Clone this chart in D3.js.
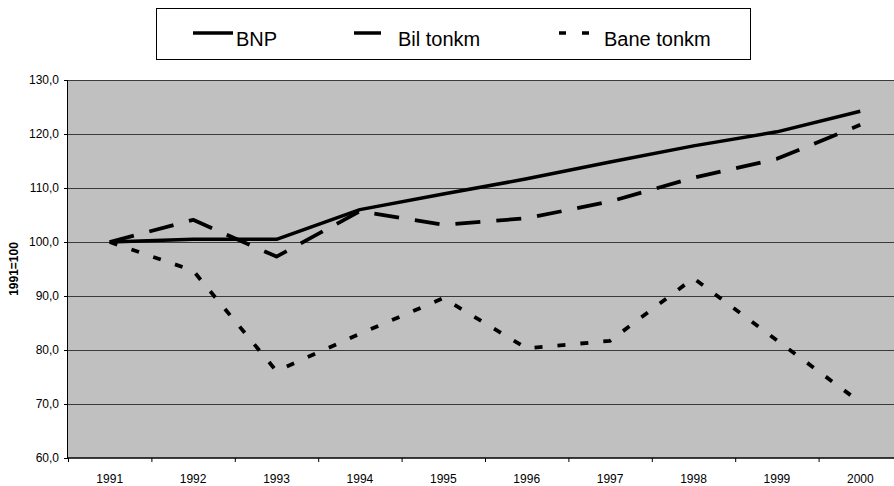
<!DOCTYPE html>
<html>
<head>
<meta charset="utf-8">
<script src="https://cdn.jsdelivr.net/npm/d3@7"></script>
<style>
  body { margin: 0; background: #fff; }
  svg { display: block; font-family: "Liberation Sans", Arial, sans-serif; }
</style>
</head>
<body>
<svg id="chart" width="894" height="486"></svg>
<script>
const years = ["1991", "1992", "1993", "1994", "1995", "1996", "1997", "1998", "1999", "2000"];
const bnp = [100, 100.5, 100.5, 106.0, 108.9, 111.7, 114.8, 117.8, 120.4, 124.2];
const bil = [100, 104.1, 97.3, 105.7, 103.2, 104.4, 107.5, 111.9, 115.4, 121.7];
const bane = [100, 94.7, 76.1, 83.0, 89.6, 80.3, 81.7, 93.3, 81.8, 70.3];
const yTicks = [60, 70, 80, 90, 100, 110, 120, 130];

const series = [
  { name: "BNP", values: bnp, dash: null, width: 3.5 },
  { name: "Bil tonkm", values: bil, dash: "25,16", width: 3.8 },
  { name: "Bane tonkm", values: bane, dash: "8,15", width: 3.8 },
];

const svg = d3.select("#chart");
const margin = { top: 80, left: 68 };
const width = 834;
const height = 378;

const x = d3.scaleBand().domain(years).range([0, width]);
const y = d3.scaleLinear().domain([60, 130]).range([height, 0]);

const g = svg.append("g").attr("transform", `translate(${margin.left},${margin.top})`);

// plot background
g.append("rect")
  .attr("width", width)
  .attr("height", height)
  .attr("fill", "#c0c0c0");

// gridlines
g.selectAll(".grid")
  .data(yTicks.slice(1))
  .enter()
  .append("line")
  .attr("x1", 0)
  .attr("x2", width)
  .attr("y1", (d) => y(d) + 0.5)
  .attr("y2", (d) => y(d) + 0.5)
  .attr("stroke", "#3a3a3a")
  .attr("stroke-width", 1);

// y axis
const yAxis = g.append("g")
  .call(d3.axisLeft(y).tickValues(yTicks).tickSize(4).tickPadding(5)
    .tickFormat((d) => d.toFixed(1).replace(".", ",")));
yAxis.select(".domain").attr("stroke", "#000").attr("d", `M-0.5,${height}V0`);
yAxis.selectAll("text").attr("font-size", 12).attr("fill", "#000")
  .attr("font-family", "Liberation Sans, Arial, sans-serif");

// x axis
const xAxis = g.append("g")
  .attr("transform", `translate(0,${height})`)
  .call(d3.axisBottom(x).tickSize(0).tickPadding(16));
xAxis.select(".domain").remove();
xAxis.selectAll("text").attr("font-size", 12).attr("fill", "#000")
  .attr("font-family", "Liberation Sans, Arial, sans-serif");
xAxis.append("line")
  .attr("x1", 0).attr("x2", width)
  .attr("y1", 0).attr("y2", 0)
  .attr("stroke", "#000").attr("stroke-width", 1.5);
xAxis.selectAll(".xtick")
  .data(years)
  .enter()
  .append("line")
  .attr("x1", (d) => x(d) + 0.5)
  .attr("x2", (d) => x(d) + 0.5)
  .attr("y1", 0)
  .attr("y2", 4)
  .attr("stroke", "#000");

// y axis title
svg.append("text")
  .attr("transform", `translate(18,${margin.top + height / 2}) rotate(-90)`)
  .attr("text-anchor", "middle")
  .attr("font-size", 12)
  .attr("font-weight", "bold")
  .text("1991=100");

// lines
const line = d3.line()
  .x((d, i) => x(years[i]) + x.bandwidth() / 2)
  .y((d) => y(d));

g.selectAll(".series")
  .data(series)
  .enter()
  .append("path")
  .attr("d", (d) => line(d.values))
  .attr("fill", "none")
  .attr("stroke", "#000")
  .attr("stroke-width", (d) => d.width)
  .attr("stroke-dasharray", (d) => d.dash)
  .attr("stroke-linejoin", "round");

// legend
const legend = svg.append("g");
legend.append("rect")
  .attr("x", 156.5).attr("y", 8.5)
  .attr("width", 594).attr("height", 51)
  .attr("fill", "#fff").attr("stroke", "#000");

const legendPos = [
  { x1: 193, x2: 233, tx: 236, dash: null },
  { x1: 354, x2: 381, tx: 398, dash: null },
  { x1: 559, x2: 590, tx: 604, dash: "7,16" },
];
legend.selectAll(".item")
  .data(series)
  .enter()
  .append("g")
  .each(function (d, i) {
    const p = legendPos[i];
    const item = d3.select(this);
    item.append("line")
      .attr("x1", p.x1).attr("x2", p.x2)
      .attr("y1", 33).attr("y2", 33)
      .attr("stroke", "#000").attr("stroke-width", 3.5)
      .attr("stroke-dasharray", p.dash);
    item.append("text")
      .attr("x", p.tx).attr("y", 46)
      .attr("font-size", 20)
      .text(d.name);
  });
</script>
</body>
</html>
